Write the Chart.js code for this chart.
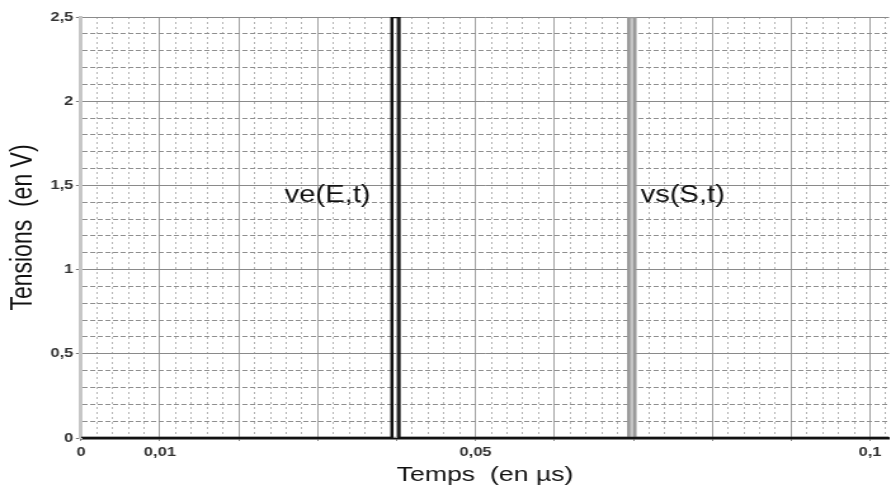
<!DOCTYPE html>
<html>
<head>
<meta charset="utf-8">
<script src="https://cdn.jsdelivr.net/npm/chart.js@4/dist/chart.umd.min.js"></script>
<style>
  html, body { margin: 0; padding: 0; background: #fff; overflow: hidden; }
  /* the reference is stretched sideways, so draw narrower and widen it */
  #wrap { width: 702px; height: 496px; transform: scaleX(1.2692); transform-origin: 0 0; }
</style>
</head>
<body>
<div id="wrap"><canvas id="chart"></canvas></div>
<script>
// pulse seen at the input (ve) and output (vs), time in µs, tension in V
const veTimes = [0, 0.0394, 0.0394, 0.0403, 0.0403, 0.1024];
const veVolts = [0, 0, 2.5, 2.5, 0, 0];
const vsTimes = [0, 0.0694, 0.0694, 0.0702, 0.0702, 0.1024];
const vsVolts = [0, 0, 2.5, 2.5, 0, 0];

const xTickValues = [0, 0.01, 0.05, 0.1];
const xTickLabels = ['0', '0,01', '0,05', '0,1'];
const yTickValues = [0, 0.5, 1, 1.5, 2, 2.5];
const yTickLabels = ['0', '0,5', '1', '1,5', '2', '2,5'];

const curveNames = ['ve(E,t)', 'vs(S,t)'];
const curveNameTimes = [0.0258, 0.0709];
const curveNameVolts = [1.4, 1.4];

const FONT = "'Liberation Sans', Arial, sans-serif";

function toPoints(xs, ys) {
    return xs.map((x, i) => ({ x: x, y: ys[i] }));
}

function labelFor(v, values, labels) {
    for (let i = 0; i < values.length; i++) {
        if (Math.abs(v - values[i]) < 1e-9) return labels[i];
    }
    return '';
}

const isMajorX = v => Math.round(v * 10000) % 100 === 0;
const isMajorY = v => Math.round(v * 10) % 5 === 0;

// curve names written inside the plot
const curveNamePlugin = {
    id: 'curveNames',
    afterDatasetsDraw(chart) {
        const c = chart.ctx;
        const xs = chart.scales.x, ys = chart.scales.y;
        c.save();
        c.font = '23px ' + FONT;
        c.fillStyle = '#111';
        c.textBaseline = 'alphabetic';
        c.textAlign = 'left';
        curveNames.forEach((name, i) => {
            c.fillText(name, xs.getPixelForValue(curveNameTimes[i]), ys.getPixelForValue(curveNameVolts[i]));
        });
        c.restore();
    }
};

new Chart(document.getElementById('chart'), {
    type: 'line',
    data: {
        datasets: [
            {
                label: 've(E,t)',
                data: toPoints(veTimes, veVolts),
                borderColor: '#111',
                borderWidth: 2.5,
                pointRadius: 0,
                tension: 0,
                fill: false
            },
            {
                label: 'vs(S,t)',
                data: toPoints(vsTimes, vsVolts),
                borderColor: '#999',
                backgroundColor: '#c4c4c4',
                borderWidth: 2.5,
                pointRadius: 0,
                tension: 0,
                fill: 'origin'
            }
        ]
    },
    options: {
        responsive: true,
        maintainAspectRatio: false,
        animation: false,
        layout: { padding: { top: 17, right: 0, bottom: 0, left: 0 } },
        plugins: {
            legend: { display: false },
            tooltip: { enabled: false },
            filler: { propagate: false }
        },
        scales: {
            x: {
                type: 'linear',
                min: 0,
                max: 0.1024,
                afterFit: s => { s.height = 58; },
                ticks: {
                    stepSize: 0.002,
                    autoSkip: false,
                    includeBounds: false,
                    maxRotation: 0,
                    padding: 4,
                    color: '#333',
                    font: { family: FONT, size: 13, weight: 'bold' },
                    callback: v => labelFor(v, xTickValues, xTickLabels)
                },
                grid: {
                    color: c => isMajorX(c.tick.value) ? '#a0a0a0' : '#b4b4b4',
                    lineWidth: 1,
                    tickLength: 3,
                    tickColor: c => isMajorX(c.tick.value) ? '#888' : 'rgba(0,0,0,0)'
                },
                border: {
                    display: true,
                    color: '#111',
                    width: 2.5,
                    dash: c => (c.tick && !isMajorX(c.tick.value)) ? [2, 3] : []
                },
                title: {
                    display: true,
                    text: 'Temps  (en µs)',
                    color: '#111',
                    font: { family: FONT, size: 21 },
                    padding: { top: 0, bottom: 8 }
                }
            },
            y: {
                min: 0,
                max: 2.5,
                afterFit: s => { s.width = 63.82; },
                ticks: {
                    stepSize: 0.1,
                    autoSkip: false,
                    padding: 2,
                    color: '#333',
                    font: { family: FONT, size: 13, weight: 'bold' },
                    callback: v => labelFor(v, yTickValues, yTickLabels)
                },
                grid: {
                    color: c => isMajorY(c.tick.value) ? '#8a8a8a' : '#8f8f8f',
                    lineWidth: 1,
                    tickLength: 4,
                    tickColor: c => isMajorY(c.tick.value) ? '#777' : 'rgba(0,0,0,0)'
                },
                border: {
                    display: true,
                    color: '#c6c6c6',
                    width: 3,
                    dash: c => (c.tick && !isMajorY(c.tick.value)) ? [4, 2] : []
                },
                title: {
                    display: true,
                    text: 'Tensions  (en V)',
                    color: '#111',
                    font: { family: FONT, size: 23 },
                    padding: { top: 5, bottom: 0 }
                }
            }
        }
    },
    plugins: [curveNamePlugin]
});
</script>
</body>
</html>
